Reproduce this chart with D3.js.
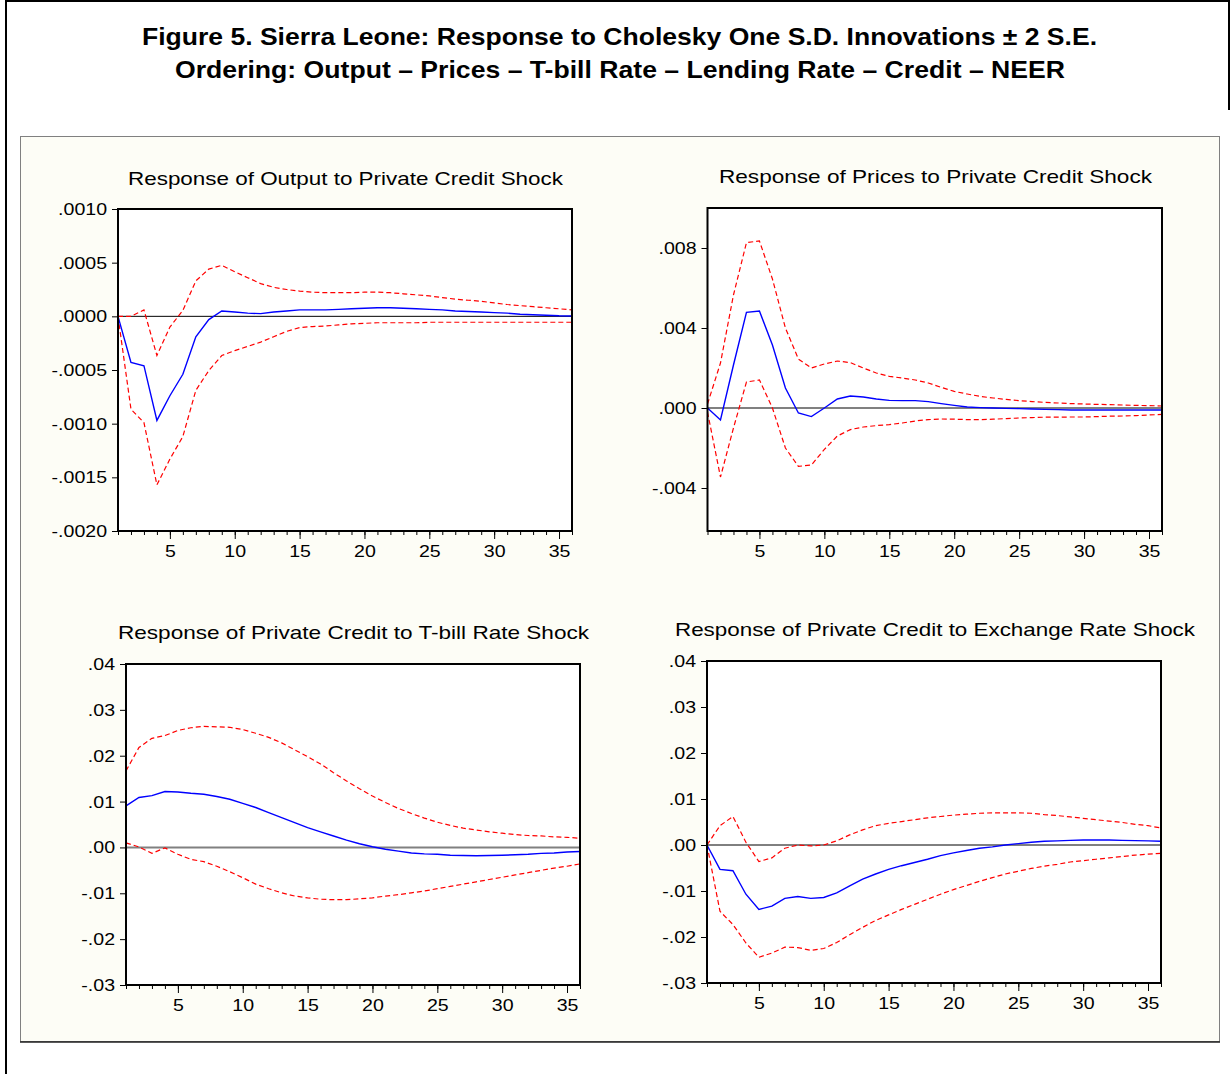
<!DOCTYPE html>
<html>
<head>
<meta charset="utf-8">
<script src="https://cdn.jsdelivr.net/npm/d3@7"></script>
<style>
  html, body { margin: 0; padding: 0; background: #ffffff; }
  svg { display: block; }
  text { font-family: "Liberation Sans", Arial, sans-serif; fill: #000; }
</style>
</head>
<body>
<script>
// ---------------- DATA ----------------
const periods = d3.range(1, 37);

const mainTitle1 = "Figure 5. Sierra Leone: Response to Cholesky One S.D. Innovations \u00b1 2 S.E.";
const mainTitle2 = "Ordering: Output \u2013 Prices \u2013 T-bill Rate \u2013 Lending Rate \u2013 Credit \u2013 NEER";

const panelTitles = [
  "Response of Output to Private Credit Shock",
  "Response of Prices to Private Credit Shock",
  "Response of Private Credit to T-bill Rate Shock",
  "Response of Private Credit to Exchange Rate Shock"
];

const xTickValues = [5, 10, 15, 20, 25, 30, 35];

// Panel 1: Output to private credit shock
const outputResp = [0, -0.00043, -0.00046, -0.00097, -0.00074, -0.00054, -0.00019, -0.00003, 0.00005, 0.00004,
  0.00003, 0.000025, 0.00004, 0.00005, 0.00006, 0.00006, 0.00006, 0.000065, 0.00007, 0.000075,
  0.00008, 0.00008, 0.000075, 0.00007, 0.000065, 0.00006, 0.00005, 0.000045, 0.00004, 0.000035,
  0.00003, 0.00002, 0.000015, 0.00001, 0.000005, 0.000003];
const outputUpper = [0, 0.0, 0.00006, -0.000365, -0.0001, 0.000055, 0.00033, 0.00044, 0.000475, 0.000415,
  0.00036, 0.000305, 0.00027, 0.00025, 0.000235, 0.000225, 0.00022, 0.00022, 0.00022, 0.000225,
  0.000225, 0.00022, 0.00021, 0.0002, 0.00019, 0.000175, 0.00016, 0.00015, 0.00014, 0.000125,
  0.00011, 0.0001, 0.00009, 0.00008, 0.00007, 0.00006];
const outputLower = [0, -0.000865, -0.00099, -0.00157, -0.00133, -0.00112, -0.00069, -0.000505, -0.000365, -0.00032,
  -0.00028, -0.00024, -0.00019, -0.00014, -0.000105, -0.000095, -0.00009, -0.00008, -0.00007, -0.000065,
  -0.00006, -0.00006, -0.00006, -0.00006, -0.000055, -0.000055, -0.000055, -0.000055, -0.000055, -0.000055,
  -0.000055, -0.000055, -0.000055, -0.000055, -0.000055, -0.000055];

// Panel 2: Prices to private credit shock
const pricesResp = [0, -0.0006, 0.00215, 0.00478, 0.00485, 0.00315, 0.001, -0.00025, -0.00043, 0.0,
  0.00045, 0.0006, 0.00055, 0.00045, 0.00038, 0.00037, 0.00037, 0.00032, 0.00022, 0.00013,
  0.00005, 0.00002, 0.0, -0.00002, -0.00003, -0.00005, -0.00007, -0.00008, -0.0001, -0.0001,
  -0.0001, -0.0001, -0.0001, -0.0001, -0.0001, -0.0001];
const pricesUpper = [0.0002, 0.00225, 0.00565, 0.00827, 0.00835, 0.00645, 0.004, 0.00245, 0.002, 0.0022,
  0.00235, 0.00227, 0.002, 0.00175, 0.00158, 0.0015, 0.0014, 0.00125, 0.00103, 0.00083,
  0.0007, 0.00058, 0.0005, 0.00043, 0.00037, 0.00032, 0.00028, 0.00025, 0.00022, 0.0002,
  0.00018, 0.00017, 0.00015, 0.00013, 0.00012, 0.0001];
const pricesLower = [-0.0002, -0.00345, -0.001, 0.0013, 0.0014, 0.0, -0.002, -0.00292, -0.00285, -0.00207,
  -0.0014, -0.00108, -0.00095, -0.00088, -0.00083, -0.00075, -0.00065, -0.00058, -0.00055, -0.00056,
  -0.00058, -0.00058, -0.00056, -0.00053, -0.0005, -0.00048, -0.00046, -0.00046, -0.00045, -0.00045,
  -0.00043, -0.00041, -0.0004, -0.00038, -0.00035, -0.00032];

// Panel 3: Private credit to T-bill rate shock
const creditTbillResp = [0.00905, 0.0109, 0.0113, 0.0122, 0.0121, 0.0118, 0.0116, 0.0111, 0.0105, 0.0096,
  0.0087, 0.0076, 0.0065, 0.0054, 0.0043, 0.0034, 0.0025, 0.0016, 0.0008, 0.00015,
  -0.0004, -0.0008, -0.0012, -0.0014, -0.0015, -0.0017, -0.00175, -0.0018, -0.00175, -0.0017,
  -0.0016, -0.0015, -0.0013, -0.0012, -0.001, -0.0009];
const creditTbillUpper = [0.0167, 0.0218, 0.0238, 0.0244, 0.0255, 0.0261, 0.0264, 0.0263, 0.0262, 0.0257,
  0.0249, 0.024, 0.0228, 0.0213, 0.0198, 0.0182, 0.0163, 0.0145, 0.0128, 0.0112,
  0.0098, 0.0085, 0.0074, 0.0064, 0.0055, 0.0048, 0.0042, 0.0038, 0.0034, 0.0031,
  0.0028, 0.0026, 0.0025, 0.0023, 0.0022, 0.002];
const creditTbillLower = [0.001, 0.0001, -0.0013, -0.0001, -0.0015, -0.0026, -0.0031, -0.0041, -0.0053, -0.0066,
  -0.008, -0.009, -0.0099, -0.0106, -0.011, -0.0113, -0.0114, -0.0114, -0.0112, -0.011,
  -0.0106, -0.0103, -0.0099, -0.0095, -0.009, -0.0085, -0.008, -0.0075, -0.007, -0.0065,
  -0.006, -0.0055, -0.005, -0.0045, -0.0041, -0.0036];

// Panel 4: Private credit to exchange rate shock
const creditNeerResp = [0, -0.0053, -0.0056, -0.0107, -0.014, -0.0133, -0.0116, -0.0112, -0.0116, -0.0114,
  -0.0104, -0.0089, -0.0074, -0.0063, -0.0053, -0.0045, -0.0038, -0.0031, -0.0023, -0.0017,
  -0.0012, -0.0007, -0.0004, 0.0, 0.0003, 0.0006, 0.0008, 0.0009, 0.001, 0.0011,
  0.0011, 0.0011, 0.001, 0.00095, 0.0009, 0.0008];
const creditNeerUpper = [0, 0.0042, 0.0062, 0.0006, -0.0036, -0.0028, -0.0007, 0.0, -0.0002, 0.0,
  0.0009, 0.0022, 0.0033, 0.0042, 0.0047, 0.0051, 0.0055, 0.0059, 0.0062, 0.0065,
  0.0067, 0.0069, 0.007, 0.007, 0.007, 0.0069, 0.0066, 0.0064, 0.0061, 0.0058,
  0.0055, 0.0052, 0.0049, 0.0045, 0.0042, 0.0037];
const creditNeerLower = [0, -0.0144, -0.0173, -0.0213, -0.0244, -0.0235, -0.0222, -0.0223, -0.0229, -0.0225,
  -0.0212, -0.0195, -0.0179, -0.0164, -0.0152, -0.014, -0.0129, -0.0118, -0.0107, -0.0097,
  -0.0088, -0.0079, -0.0071, -0.0063, -0.0057, -0.0051, -0.0046, -0.0042, -0.0037, -0.0034,
  -0.0031, -0.0028, -0.0025, -0.0022, -0.002, -0.0018];

const yTicks1 = [0.0010, 0.0005, 0.0, -0.0005, -0.0010, -0.0015, -0.0020];
const yTicks2 = [0.008, 0.004, 0.0, -0.004];
const yTicks34 = [0.04, 0.03, 0.02, 0.01, 0.0, -0.01, -0.02, -0.03];

// ---------------- LAYOUT ----------------
const W = 1231, H = 1074;
const svg = d3.select("body").append("svg").attr("width", W).attr("height", H);
const locale = d3.formatLocale({ decimal: ".", thousands: ",", grouping: [3], currency: ["", ""], minus: "-" });

function stretch(sel, f) {
  sel.each(function () {
    const l = this.getComputedTextLength();
    d3.select(this).attr("textLength", l * f).attr("lengthAdjust", "spacingAndGlyphs");
  });
}
function fitTo(sel, w) {
  sel.attr("textLength", w).attr("lengthAdjust", "spacingAndGlyphs");
}

// page frame
svg.append("line").attr("x1", 6).attr("x2", 6).attr("y1", 0).attr("y2", H).attr("stroke", "#000").attr("stroke-width", 2);
svg.append("line").attr("x1", 5).attr("x2", 1230).attr("y1", 1).attr("y2", 1).attr("stroke", "#000").attr("stroke-width", 2);
svg.append("line").attr("x1", 1229).attr("x2", 1229).attr("y1", 0).attr("y2", 110).attr("stroke", "#000").attr("stroke-width", 2);

// main titles
const t1 = svg.append("text").attr("x", 619.5).attr("y", 45).attr("text-anchor", "middle")
  .attr("font-size", 24).attr("font-weight", "bold").text(mainTitle1);
fitTo(t1, 955);
const t2 = svg.append("text").attr("x", 620).attr("y", 78).attr("text-anchor", "middle")
  .attr("font-size", 24).attr("font-weight", "bold").text(mainTitle2);
fitTo(t2, 890);

// graph background
svg.append("rect").attr("x", 20.5).attr("y", 136.5).attr("width", 1199).attr("height", 905)
  .attr("fill", "#fdfdf6").attr("stroke", "#808080").attr("stroke-width", 1);
svg.append("line").attr("x1", 20).attr("x2", 1220).attr("y1", 1042).attr("y2", 1042)
  .attr("stroke", "#222").attr("stroke-width", 1.5);

const panels = [
  { title: panelTitles[0], resp: outputResp, upper: outputUpper, lower: outputLower,
    box: { l: 118, t: 209, r: 572, b: 531 }, domain: [-0.0020, 0.0010], ticks: yTicks1, fmt: ".4f",
    zero: { color: "#000", width: 1 }, titleX: 345.5, titleY: 185, titleW: 435 },
  { title: panelTitles[1], resp: pricesResp, upper: pricesUpper, lower: pricesLower,
    box: { l: 707.5, t: 208, r: 1162, b: 531 }, domain: [-0.00615, 0.010], ticks: yTicks2, fmt: ".3f",
    zero: { color: "#808080", width: 2 }, titleX: 935.5, titleY: 183, titleW: 433 },
  { title: panelTitles[2], resp: creditTbillResp, upper: creditTbillUpper, lower: creditTbillLower,
    box: { l: 126, t: 664, r: 580, b: 985 }, domain: [-0.03, 0.04], ticks: yTicks34, fmt: ".2f",
    zero: { color: "#808080", width: 2 }, titleX: 353.5, titleY: 639, titleW: 471 },
  { title: panelTitles[3], resp: creditNeerResp, upper: creditNeerUpper, lower: creditNeerLower,
    box: { l: 707, t: 661, r: 1161, b: 983 }, domain: [-0.03, 0.04], ticks: yTicks34, fmt: ".2f",
    zero: { color: "#000", width: 1 }, titleX: 935, titleY: 636, titleW: 520 }
];

const labelStretch = 1.15;

panels.forEach(p => {
  const { l, t, r, b } = p.box;
  const x = d3.scaleLinear().domain([1, 36]).range([l, r]);
  const y = d3.scaleLinear().domain(p.domain).range([b, t]);
  const g = svg.append("g");

  // title
  const tt = g.append("text").attr("x", p.titleX).attr("y", p.titleY).attr("text-anchor", "middle")
    .attr("font-size", 18.5).text(p.title);
  fitTo(tt, p.titleW);

  // plot area
  g.append("rect").attr("x", l).attr("y", t).attr("width", r - l).attr("height", b - t).attr("fill", "#fff");

  // zero line
  g.append("line").attr("x1", l).attr("x2", r).attr("y1", y(0)).attr("y2", y(0))
    .attr("stroke", p.zero.color).attr("stroke-width", p.zero.width);

  const line = d3.line().x((d, i) => x(periods[i])).y(d => y(d));
  g.append("path").datum(p.upper).attr("d", line).attr("fill", "none")
    .attr("stroke", "#ff0000").attr("stroke-width", 1.2).attr("stroke-dasharray", "5,3");
  g.append("path").datum(p.lower).attr("d", line).attr("fill", "none")
    .attr("stroke", "#ff0000").attr("stroke-width", 1.2).attr("stroke-dasharray", "5,3");
  g.append("path").datum(p.resp).attr("d", line).attr("fill", "none")
    .attr("stroke", "#0000ff").attr("stroke-width", 1.4);

  // y axis
  const fmt = locale.format(p.fmt);
  const yAxis = d3.axisLeft(y).tickValues(p.ticks).tickSize(6).tickSizeOuter(0).tickPadding(5)
    .tickFormat(d => fmt(Math.abs(d) < 1e-12 ? 0 : d).replace(/^(-?)0\./, "$1."));
  const ya = g.append("g").attr("transform", `translate(${l},0)`).call(yAxis);
  ya.select(".domain").remove();
  ya.selectAll("line").attr("stroke", "#000").attr("stroke-width", 1);
  ya.selectAll("text").attr("font-size", 17).attr("font-family", '"Liberation Sans", Arial, sans-serif')
    .attr("fill", "#000");
  stretch(ya.selectAll("text"), labelStretch);

  // x axis: minor ticks every period
  const xMinor = d3.axisBottom(x).tickValues(periods).tickSize(4).tickSizeOuter(0).tickFormat("");
  const xm = g.append("g").attr("transform", `translate(0,${b})`).call(xMinor);
  xm.select(".domain").remove();
  xm.selectAll("line").attr("stroke", "#000").attr("stroke-width", 1);

  const xMajor = d3.axisBottom(x).tickValues(xTickValues).tickSize(8).tickSizeOuter(0).tickPadding(6)
    .tickFormat(d3.format("d"));
  const xa = g.append("g").attr("transform", `translate(0,${b})`).call(xMajor);
  xa.select(".domain").remove();
  xa.selectAll("line").attr("stroke", "#000").attr("stroke-width", 1);
  xa.selectAll("text").attr("font-size", 17).attr("font-family", '"Liberation Sans", Arial, sans-serif')
    .attr("fill", "#000");
  stretch(xa.selectAll("text"), labelStretch);

  // frame
  g.append("rect").attr("x", l).attr("y", t).attr("width", r - l).attr("height", b - t)
    .attr("fill", "none").attr("stroke", "#000").attr("stroke-width", 2);
});
</script>
</body>
</html>
